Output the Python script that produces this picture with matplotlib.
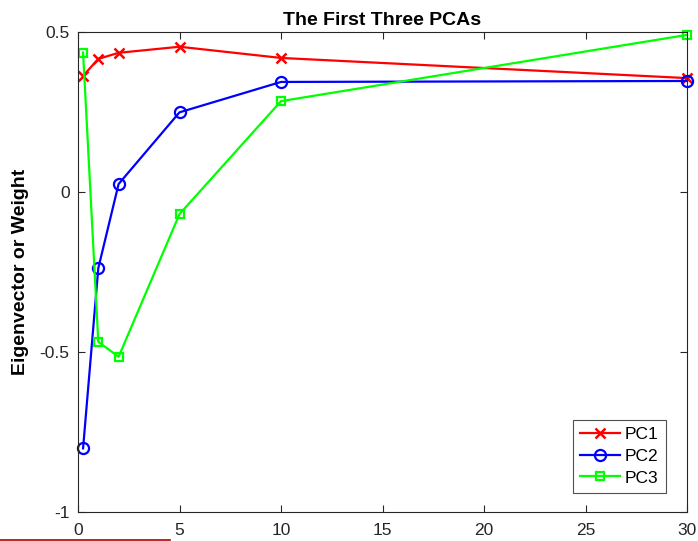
import matplotlib
matplotlib.use("Agg")
import matplotlib.pyplot as plt
from matplotlib.lines import Line2D

plt.rcParams['font.family'] = ['Liberation Sans', 'DejaVu Sans']

maturities = [0.25, 1, 2, 5, 10, 30]
pc1 = [0.362, 0.415, 0.434, 0.453, 0.418, 0.355]
pc2 = [-0.802, -0.239, 0.024, 0.248, 0.343, 0.346]
pc3 = [0.435, -0.469, -0.516, -0.07, 0.283, 0.49]
series_names = ['PC1', 'PC2', 'PC3']
xticks = [0, 5, 10, 15, 20, 25, 30]
yticks = [-1, -0.5, 0, 0.5]
ytick_labels = ['-1', '-0.5', '0', '0.5']

fig = plt.figure(figsize=(6.98, 5.41), dpi=100)
ax = fig.add_axes([78/698, 1-511.7/541, (687-78)/698, (511.7-31.7)/541])

ax.plot(maturities, pc1, color='#ff0000', lw=1.6, marker='x', ms=7, mew=1.8, label=series_names[0], clip_on=False)
ax.plot(maturities, pc2, color='#0000ff', lw=1.6, marker='o', ms=8, mew=1.6, mfc='none', label=series_names[1], clip_on=False)
ax.plot(maturities, pc3, color='#00ff00', lw=1.6, marker='s', ms=6, mew=1.6, mfc='none', label=series_names[2], clip_on=False)

ax.set_xlim(0, 30)
ax.set_ylim(-1, 0.5)
ax.set_xticks(xticks)
ax.set_xticklabels([str(t) for t in xticks])
ax.set_yticks(yticks)
ax.set_yticklabels(ytick_labels)
ax.tick_params(direction='in', top=True, right=True, length=5, width=0.8,
               colors='#262626', labelsize=12.5, labelcolor='#262626')
ax.tick_params(axis='y', pad=6)
ax.tick_params(axis='x', pad=8)
for s in ax.spines.values():
    s.set_color('#262626')
    s.set_linewidth(0.8)

ax.set_title('The First Three PCAs', fontsize=14, fontweight='bold', pad=5)
ax.set_ylabel('Eigenvector or Weight', fontsize=14, fontweight='bold', labelpad=8)

leg = ax.legend(loc='lower right', bbox_to_anchor=(0.965, 0.04), fontsize=12.5,
                handlelength=2.3, frameon=True, fancybox=False, edgecolor='#262626',
                borderpad=0.4, labelspacing=0.38, handletextpad=0.3, borderaxespad=0)
leg.get_frame().set_linewidth(0.8)

# thin dark-red rule visible along the bottom-left edge of the reference image
fig.add_artist(Line2D([0, 170/698], [1.5/541, 1.5/541], color='#b00000', lw=1.2,
                      transform=fig.transFigure))

fig.savefig('out.png', dpi=100)
